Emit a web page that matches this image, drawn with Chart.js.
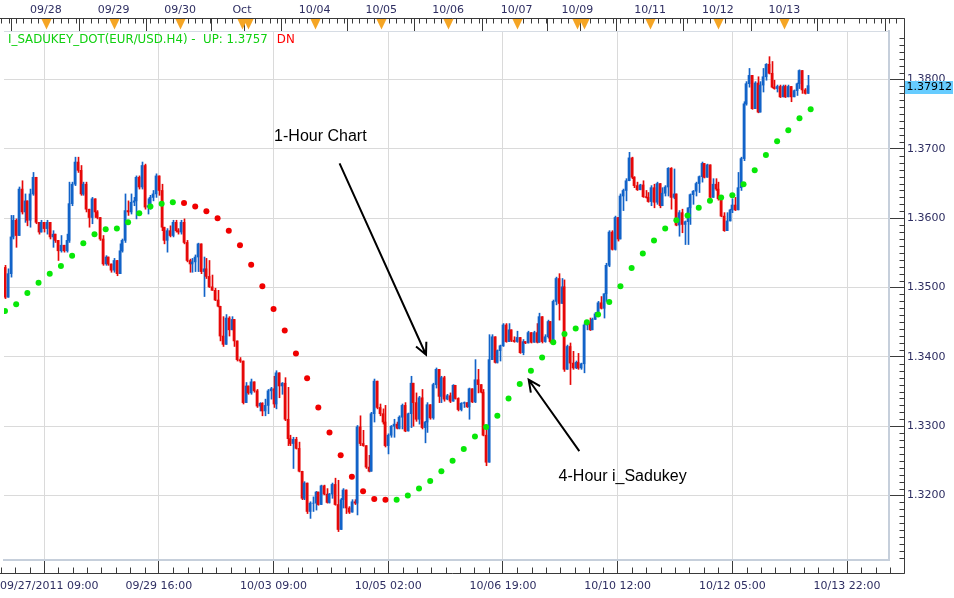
<!DOCTYPE html>
<html>
<head>
<meta charset="utf-8">
<script src="https://cdn.jsdelivr.net/npm/chart.js@4.4.0/dist/chart.umd.min.js"></script>
<style>
  html, body { margin: 0; padding: 0; background: #fff; }
  canvas { display: block; }
</style>
</head>
<body>
<canvas id="chart" width="954" height="598"></canvas>
<script>
// EUR/USD 1-hour bars (bar 0 = left edge)
const firstOpen = 1.3529;
const closes = [
  1.3486, 1.3520, 1.3573, 1.3597, 1.3575, 1.3642, 1.3609, 1.3625, 1.3597, 1.3635,
  1.3659, 1.3594, 1.3580, 1.3594, 1.3585, 1.3594, 1.3573, 1.3577, 1.3568, 1.3553,
  1.3561, 1.3553, 1.3568, 1.3621, 1.3649, 1.3681, 1.3669, 1.3635, 1.3649, 1.3613,
  1.3601, 1.3628, 1.3609, 1.3601, 1.3570, 1.3534, 1.3544, 1.3534, 1.3525, 1.3539,
  1.3520, 1.3553, 1.3568, 1.3611, 1.3609, 1.3623, 1.3625, 1.3659, 1.3645, 1.3676,
  1.3616, 1.3618, 1.3630, 1.3635, 1.3661, 1.3640, 1.3587, 1.3568, 1.3582, 1.3575,
  1.3594, 1.3582, 1.3580, 1.3594, 1.3565, 1.3539, 1.3534, 1.3537, 1.3544, 1.3563,
  1.3523, 1.3527, 1.3516, 1.3501, 1.3496, 1.3482, 1.3473, 1.3430, 1.3418, 1.3456,
  1.3439, 1.3454, 1.3423, 1.3396, 1.3394, 1.3334, 1.3358, 1.3348, 1.3364, 1.3351,
  1.3329, 1.3333, 1.3322, 1.3330, 1.3351, 1.3354, 1.3332, 1.3377, 1.3358, 1.3362,
  1.3310, 1.3282, 1.3275, 1.3281, 1.3268, 1.3235, 1.3196, 1.3218, 1.3177, 1.3189,
  1.3189, 1.3205, 1.3187, 1.3214, 1.3202, 1.3190, 1.3202, 1.3216, 1.3187, 1.3151,
  1.3194, 1.3208, 1.3182, 1.3176, 1.3191, 1.3189, 1.3299, 1.3275, 1.3272, 1.3241,
  1.3235, 1.3318, 1.3365, 1.3327, 1.3318, 1.3306, 1.3272, 1.3287, 1.3300, 1.3303,
  1.3297, 1.3313, 1.3330, 1.3293, 1.3318, 1.3362, 1.3334, 1.3310, 1.3341, 1.3298,
  1.3306, 1.3331, 1.3312, 1.3360, 1.3382, 1.3343, 1.3370, 1.3339, 1.3344, 1.3336,
  1.3359, 1.3340, 1.3324, 1.3333, 1.3334, 1.3328, 1.3354, 1.3335, 1.3367, 1.3360,
  1.3349, 1.3287, 1.3248, 1.3396, 1.3429, 1.3392, 1.3409, 1.3416, 1.3446, 1.3422,
  1.3439, 1.3424, 1.3422, 1.3428, 1.3406, 1.3422, 1.3420, 1.3435, 1.3421, 1.3435,
  1.3421, 1.3458, 1.3422, 1.3429, 1.3451, 1.3422, 1.3480, 1.3513, 1.3477, 1.3501,
  1.3382, 1.3415, 1.3391, 1.3384, 1.3392, 1.3384, 1.3390, 1.3446, 1.3449, 1.3439,
  1.3454, 1.3462, 1.3478, 1.3470, 1.3491, 1.3532, 1.3580, 1.3555, 1.3601, 1.3570,
  1.3632, 1.3640, 1.3654, 1.3687, 1.3659, 1.3647, 1.3641, 1.3648, 1.3631, 1.3630,
  1.3624, 1.3644, 1.3623, 1.3650, 1.3618, 1.3636, 1.3645, 1.3672, 1.3630, 1.3635,
  1.3590, 1.3608, 1.3591, 1.3595, 1.3615, 1.3634, 1.3639, 1.3650, 1.3660, 1.3679,
  1.3659, 1.3677, 1.3630, 1.3649, 1.3642, 1.3628, 1.3603, 1.3582, 1.3596, 1.3612,
  1.3619, 1.3612, 1.3644, 1.3686, 1.3765, 1.3794, 1.3806, 1.3758, 1.3795, 1.3753,
  1.3792, 1.3804, 1.3822, 1.3809, 1.3789, 1.3787, 1.3790, 1.3775, 1.3790, 1.3775,
  1.3790, 1.3775, 1.3784, 1.3794, 1.3813, 1.3785, 1.3780, 1.37912
];
const highs = [
  1.3532, 1.3527, 1.3604, 1.3604, 1.3599, 1.3645, 1.3654, 1.3635, 1.3625, 1.3642,
  1.3666, 1.3659, 1.3594, 1.3597, 1.3594, 1.3597, 1.3594, 1.3582, 1.3577, 1.3568,
  1.3575, 1.3561, 1.3577, 1.3652, 1.3652, 1.3688, 1.3688, 1.3676, 1.3652, 1.3652,
  1.3613, 1.3630, 1.3628, 1.3611, 1.3601, 1.3575, 1.3546, 1.3544, 1.3534, 1.3542,
  1.3539, 1.3563, 1.3570, 1.3635, 1.3625, 1.3635, 1.3630, 1.3661, 1.3661, 1.3681,
  1.3678, 1.3628, 1.3633, 1.3640, 1.3664, 1.3661, 1.3649, 1.3587, 1.3585, 1.3589,
  1.3597, 1.3597, 1.3585, 1.3597, 1.3599, 1.3568, 1.3541, 1.3542, 1.3547, 1.3564,
  1.3561, 1.3544, 1.3542, 1.3539, 1.3518, 1.3499, 1.3496, 1.3473, 1.3458, 1.3461,
  1.3458, 1.3458, 1.3451, 1.3423, 1.3399, 1.3394, 1.3363, 1.3358, 1.3368, 1.3364,
  1.3353, 1.3334, 1.3334, 1.3339, 1.3353, 1.3356, 1.3372, 1.3380, 1.3365, 1.3363,
  1.3370, 1.3356, 1.3287, 1.3284, 1.3284, 1.3277, 1.3234, 1.3220, 1.3208, 1.3191,
  1.3198, 1.3206, 1.3198, 1.3215, 1.3215, 1.3210, 1.3203, 1.3218, 1.3225, 1.3222,
  1.3196, 1.3210, 1.3208, 1.3184, 1.3194, 1.3194, 1.3301, 1.3315, 1.3294, 1.3272,
  1.3258, 1.3320, 1.3368, 1.3365, 1.3332, 1.3325, 1.3330, 1.3289, 1.3301, 1.3310,
  1.3306, 1.3315, 1.3332, 1.3334, 1.3319, 1.3372, 1.3362, 1.3348, 1.3343, 1.3353,
  1.3307, 1.3334, 1.3329, 1.3362, 1.3384, 1.3382, 1.3372, 1.3372, 1.3346, 1.3348,
  1.3360, 1.3359, 1.3341, 1.3334, 1.3335, 1.3334, 1.3355, 1.3354, 1.3396, 1.3382,
  1.3360, 1.3353, 1.3301, 1.3432, 1.3432, 1.3411, 1.3410, 1.3417, 1.3448, 1.3448,
  1.3448, 1.3439, 1.3429, 1.3437, 1.3427, 1.3425, 1.3422, 1.3437, 1.3435, 1.3437,
  1.3448, 1.3463, 1.3458, 1.3432, 1.3453, 1.3451, 1.3482, 1.3515, 1.3520, 1.3513,
  1.3511, 1.3417, 1.3420, 1.3408, 1.3394, 1.3405, 1.3391, 1.3448, 1.3451, 1.3456,
  1.3456, 1.3464, 1.3480, 1.3487, 1.3491, 1.3535, 1.3582, 1.3582, 1.3603, 1.3587,
  1.3635, 1.3642, 1.3657, 1.3695, 1.3688, 1.3660, 1.3652, 1.3649, 1.3654, 1.3640,
  1.3637, 1.3647, 1.3649, 1.3652, 1.3650, 1.3644, 1.3647, 1.3673, 1.3673, 1.3671,
  1.3635, 1.3611, 1.3613, 1.3596, 1.3615, 1.3635, 1.3640, 1.3652, 1.3661, 1.3681,
  1.3676, 1.3678, 1.3676, 1.3657, 1.3657, 1.3652, 1.3630, 1.3608, 1.3608, 1.3613,
  1.3628, 1.3630, 1.3666, 1.3688, 1.3768, 1.3797, 1.3816, 1.3806, 1.3797, 1.3804,
  1.3797, 1.3816, 1.3823, 1.3833, 1.3826, 1.3799, 1.3792, 1.3792, 1.3792, 1.3792,
  1.3792, 1.3789, 1.3785, 1.3795, 1.3814, 1.3813, 1.3787, 1.3806
];
const lows = [
  1.3484, 1.3486, 1.3515, 1.3570, 1.3558, 1.3575, 1.3606, 1.3594, 1.3589, 1.3587,
  1.3633, 1.3592, 1.3577, 1.3580, 1.3580, 1.3577, 1.3570, 1.3558, 1.3565, 1.3539,
  1.3551, 1.3551, 1.3551, 1.3565, 1.3618, 1.3647, 1.3666, 1.3633, 1.3633, 1.3609,
  1.3587, 1.3592, 1.3601, 1.3599, 1.3568, 1.3532, 1.3532, 1.3532, 1.3522, 1.3522,
  1.3517, 1.3520, 1.3551, 1.3565, 1.3604, 1.3606, 1.3618, 1.3599, 1.3642, 1.3642,
  1.3613, 1.3606, 1.3613, 1.3625, 1.3630, 1.3633, 1.3582, 1.3563, 1.3551, 1.3573,
  1.3573, 1.3580, 1.3577, 1.3577, 1.3563, 1.3537, 1.3522, 1.3522, 1.3523, 1.3523,
  1.3520, 1.3487, 1.3513, 1.3500, 1.3496, 1.3481, 1.3472, 1.3423, 1.3415, 1.3418,
  1.3430, 1.3439, 1.3415, 1.3394, 1.3392, 1.3332, 1.3334, 1.3346, 1.3346, 1.3349,
  1.3327, 1.3322, 1.3315, 1.3315, 1.3318, 1.3339, 1.3327, 1.3325, 1.3341, 1.3346,
  1.3308, 1.3272, 1.3272, 1.3239, 1.3267, 1.3234, 1.3194, 1.3194, 1.3174, 1.3167,
  1.3177, 1.3179, 1.3186, 1.3187, 1.3201, 1.3189, 1.3189, 1.3196, 1.3186, 1.3148,
  1.3151, 1.3182, 1.3174, 1.3174, 1.3176, 1.3187, 1.3172, 1.3272, 1.3271, 1.3239,
  1.3234, 1.3235, 1.3306, 1.3325, 1.3315, 1.3303, 1.3270, 1.3260, 1.3284, 1.3284,
  1.3296, 1.3296, 1.3296, 1.3292, 1.3293, 1.3298, 1.3300, 1.3307, 1.3303, 1.3296,
  1.3276, 1.3291, 1.3310, 1.3310, 1.3355, 1.3334, 1.3334, 1.3336, 1.3338, 1.3334,
  1.3336, 1.3339, 1.3322, 1.3322, 1.3327, 1.3327, 1.3310, 1.3334, 1.3334, 1.3348,
  1.3348, 1.3286, 1.3243, 1.3248, 1.3398, 1.3391, 1.3391, 1.3394, 1.3415, 1.3421,
  1.3422, 1.3422, 1.3421, 1.3421, 1.3405, 1.3403, 1.3419, 1.3420, 1.3420, 1.3421,
  1.3420, 1.3421, 1.3420, 1.3421, 1.3427, 1.3420, 1.3422, 1.3475, 1.3453, 1.3477,
  1.3379, 1.3382, 1.3360, 1.3382, 1.3383, 1.3382, 1.3382, 1.3377, 1.3439, 1.3438,
  1.3439, 1.3454, 1.3462, 1.3469, 1.3456, 1.3480, 1.3530, 1.3554, 1.3554, 1.3567,
  1.3570, 1.3611, 1.3625, 1.3654, 1.3657, 1.3644, 1.3640, 1.3641, 1.3630, 1.3629,
  1.3623, 1.3618, 1.3615, 1.3620, 1.3615, 1.3618, 1.3632, 1.3632, 1.3613, 1.3628,
  1.3589, 1.3574, 1.3579, 1.3562, 1.3562, 1.3591, 1.3620, 1.3632, 1.3637, 1.3652,
  1.3658, 1.3659, 1.3629, 1.3630, 1.3640, 1.3626, 1.3602, 1.3581, 1.3582, 1.3596,
  1.3608, 1.3611, 1.3630, 1.3640, 1.3683, 1.3763, 1.3789, 1.3757, 1.3758, 1.3752,
  1.3753, 1.3782, 1.3799, 1.3808, 1.3788, 1.3786, 1.3782, 1.3774, 1.3775, 1.3774,
  1.3775, 1.3768, 1.3775, 1.3777, 1.3787, 1.3780, 1.3779, 1.3780
];

// I_SADUKEY_DOT (4-hour), one dot every 4 bars
const upDots = [
  1.3466, 1.3476, 1.3492, 1.3507, 1.3520, 1.3531, 1.3546, 1.3564, 1.3577, 1.3584,
  1.3585, 1.3594, 1.3607, 1.3617, 1.3621, 1.3623, null, null, null, null,
  null, null, null, null, null, null, null, null, null, null,
  null, null, null, null, null, 1.3194, 1.3200, 1.3210, 1.3221, 1.3235,
  1.3250, 1.3267, 1.3285, 1.3299, 1.3315, 1.3340, 1.3361, 1.3380, 1.3399, 1.3421,
  1.3433, 1.3441, 1.3450, 1.3461, 1.3479, 1.3502, 1.3528, 1.3549, 1.3568, 1.3585,
  1.3597, 1.3604, 1.3615, 1.3625, 1.3630, 1.3633, 1.3649, 1.3669, 1.3691, 1.3711,
  1.3727, 1.3744, 1.3757
];
const dnDots = [
  null, null, null, null, null, null, null, null, null, null,
  null, null, null, null, null, null, 1.3622, 1.3617, 1.3610, 1.3600,
  1.3582, 1.3561, 1.3533, 1.3502, 1.3469, 1.3438, 1.3405, 1.3369, 1.3327, 1.3291,
  1.3258, 1.3227, 1.3206, 1.3195, 1.3194, null, null, null, null, null,
  null, null, null, null, null, null, null, null, null, null,
  null, null, null, null, null, null, null, null, null, null,
  null, null, null, null, null, null, null, null, null, null,
  null, null, null
];
const dotEvery = 4;

// axes
const bottomTickBars = [14, 55, 96, 137, 178, 219, 260, 301];
const bottomTickLabels = ['09/27/2011 09:00', '09/29 16:00', '10/03 09:00', '10/05 02:00',
  '10/06 19:00', '10/10 12:00', '10/12 05:00', '10/13 22:00'];
const dayMarkBars = [14.6, 38.8, 62.6, 84.7, 86.8, 110.7, 134.5, 158.4, 182.9, 204.6, 206.8, 230.6, 254.8, 278.6, 302.6];
const dayMarkLabels = ['09/28', '09/29', '09/30', 'Oct', '', '10/04', '10/05', '10/06', '10/07', '10/09', '', '10/11', '10/12', '10/13', ''];
const priceTicks = [1.32, 1.33, 1.34, 1.35, 1.36, 1.37, 1.38];

const legendText = 'I_SADUKEY_DOT(EUR/USD.H4) -  UP: ' + upDots[upDots.length - 1].toFixed(4);
const notes = [
  { text: '1-Hour Chart', x: 96.2, y: 1.3718, from: [119.6, 1.3679], to: [150.5, 1.3403] },
  { text: '4-Hour i_Sadukey', x: 197.9, y: 1.3228, from: [205.3, 1.3264], to: [187.2, 1.3367] }
];

const BLUE = '#1263c8';
const RED = '#e60808';
const GREEN = '#08e808';
const DOT_RED = '#f00000';
const GRID = '#dadada';
const FRAME = '#c6cfdb';
const AXIS = '#3a3a3a';
const TEXT = '#2e2e62';
const FONT = 'DejaVu Sans';

const opens = closes.map((c, i) => i === 0 ? firstOpen : closes[i - 1]);
const bodies = closes.map((c, i) => ({ x: i, y: [opens[i], c] }));
const wicks = closes.map((c, i) => ({ x: i, y: [Math.min(lows[i], opens[i], c), Math.max(highs[i], opens[i], c)] }));
const barColors = closes.map((c, i) => c >= opens[i] ? BLUE : RED);

const X_MIN = -0.35, X_MAX = 316;
const Y_MIN = 1.3107, Y_MAX = 1.3870;

Chart.defaults.font.family = FONT;
Chart.defaults.font.size = 11;

// keep the thin candle bars on whole pixels so they stay crisp
const snapBars = {
  id: 'snapBars',
  beforeDatasetsDraw(chart) {
    chart.data.datasets.forEach((ds, di) => {
      if (ds.type === 'line') return;
      chart.getDatasetMeta(di).data.forEach(el => {
        if (el.$rawX === undefined) el.$rawX = el.x;
        el.x = Math.round(el.$rawX) + (ds.barThickness === 1 ? 0.5 : 0);
      });
    });
  }
};

const decorations = {
  id: 'decorations',
  afterDraw(chart) {
    const { ctx, chartArea: area } = chart;
    const x = chart.scales.x, y = chart.scales.y;
    const topY = Math.round(area.top - 13) + 0.5;
    const bottomY = Math.round(area.bottom + 13) + 0.5;
    const rightX = Math.round(area.right + 15) + 0.5;
    ctx.save();

    // outer axis lines
    ctx.strokeStyle = AXIS;
    ctx.lineWidth = 1;
    ctx.beginPath();
    ctx.moveTo(0, topY); ctx.lineTo(rightX, topY);
    ctx.moveTo(rightX, topY); ctx.lineTo(rightX, bottomY);
    ctx.moveTo(0, bottomY); ctx.lineTo(rightX, bottomY);

    // minor ticks, bottom
    const step = (bottomTickBars[1] - bottomTickBars[0]) / 8;
    for (let k = -8; k < 80; k++) {
      if (k % 8 === 0) continue;
      const px = Math.round(x.getPixelForValue(bottomTickBars[0] + k * step)) + 0.5;
      if (px < 0 || px > rightX) continue;
      ctx.moveTo(px, bottomY - 6); ctx.lineTo(px, bottomY);
    }
    // minor ticks, right
    for (let m = 1311; m <= 1386; m++) {
      if (m % 10 === 0) continue;
      const py = Math.round(y.getPixelForValue(m / 1000)) + 0.5;
      ctx.moveTo(rightX - 5, py); ctx.lineTo(rightX, py);
    }
    // minor ticks, top
    const dayStep = 24 / 9;
    for (let k = -9; k < 130; k++) {
      if (k % 9 === 0) continue;
      const px = Math.round(x.getPixelForValue(dayMarkBars[0] + k * dayStep)) + 0.5;
      if (px < 0 || px > rightX) continue;
      ctx.moveTo(px, topY); ctx.lineTo(px, topY + 5);
    }
    ctx.stroke();

    // day markers
    ctx.fillStyle = '#f5a524';
    dayMarkBars.forEach(v => {
      if (v > closes.length) return;
      const px = Math.round(x.getPixelForValue(v)) + 0.5;
      ctx.beginPath();
      ctx.moveTo(px - 5, topY + 0.5);
      ctx.lineTo(px + 5, topY + 0.5);
      ctx.lineTo(px, topY + 11);
      ctx.closePath();
      ctx.fill();
    });

    // first bottom label sits flush left
    ctx.font = '11px ' + FONT;
    ctx.fillStyle = TEXT;
    ctx.textBaseline = 'middle';
    ctx.textAlign = 'left';
    ctx.fillText(bottomTickLabels[0], 0, area.bottom + 26.5);

    // indicator legend
    ctx.font = '11.8px ' + FONT;
    ctx.fillStyle = '#10d010';
    ctx.fillText(legendText, 8, area.top + 9);
    const w = ctx.measureText(legendText).width;
    ctx.fillStyle = '#ff0000';
    ctx.fillText('DN', 8 + w + 9, area.top + 9);

    // last price tag
    ctx.font = '11px ' + FONT;
    const last = closes[closes.length - 1];
    const py = y.getPixelForValue(last) + 1.5;
    ctx.fillStyle = '#66ccff';
    ctx.fillRect(rightX + 0.5, Math.round(py - 6.5), 48, 13);
    ctx.fillStyle = '#000';
    ctx.fillText(last.toFixed(5), rightX + 2, py);

    // notes with arrows
    ctx.font = '16px "Liberation Sans", Arial, sans-serif';
    ctx.strokeStyle = '#000';
    ctx.lineWidth = 2;
    notes.forEach(n => {
      ctx.fillStyle = '#000';
      ctx.fillText(n.text, x.getPixelForValue(n.x), y.getPixelForValue(n.y));
      const x0 = x.getPixelForValue(n.from[0]), y0 = y.getPixelForValue(n.from[1]);
      const x1 = x.getPixelForValue(n.to[0]), y1 = y.getPixelForValue(n.to[1]);
      const a = Math.atan2(y1 - y0, x1 - x0);
      ctx.beginPath();
      ctx.moveTo(x0, y0); ctx.lineTo(x1, y1);
      ctx.moveTo(x1 - 13 * Math.cos(a - 0.45), y1 - 13 * Math.sin(a - 0.45));
      ctx.lineTo(x1, y1);
      ctx.lineTo(x1 - 13 * Math.cos(a + 0.45), y1 - 13 * Math.sin(a + 0.45));
      ctx.stroke();
    });
    ctx.restore();
  }
};

new Chart(document.getElementById('chart'), {
  type: 'bar',
  data: {
    datasets: [
      {
        type: 'line', label: 'up', showLine: false, order: 0,
        data: upDots.map((v, k) => ({ x: k * dotEvery, y: v })),
        pointRadius: 3, pointBorderWidth: 0, pointBackgroundColor: GREEN
      },
      {
        type: 'line', label: 'dn', showLine: false, order: 0,
        data: dnDots.map((v, k) => ({ x: k * dotEvery, y: v })),
        pointRadius: 3, pointBorderWidth: 0, pointBackgroundColor: DOT_RED
      },
      {
        label: 'body', data: bodies, order: 1, grouped: false,
        barThickness: 2, backgroundColor: barColors, borderWidth: 0
      },
      {
        label: 'wick', data: wicks, order: 2, grouped: false,
        barThickness: 1, backgroundColor: barColors, borderWidth: 0
      }
    ]
  },
  options: {
    responsive: false,
    devicePixelRatio: 1,
    animation: false,
    layout: { padding: 0 },
    plugins: { legend: { display: false }, tooltip: { enabled: false } },
    scales: {
      x: {
        type: 'linear', position: 'bottom', min: X_MIN, max: X_MAX, offset: false,
        afterBuildTicks: s => { s.ticks = bottomTickBars.map(v => ({ value: v })); },
        afterFit: s => { s.height = 38; s.paddingLeft = 0; s.paddingRight = 0; },
        grid: { color: GRID, tickColor: AXIS, tickLength: 13, offset: false },
        border: { color: FRAME, width: 2 },
        ticks: {
          autoSkip: false, maxRotation: 0, color: TEXT, padding: 7,
          callback: (v, i) => i === 0 ? '' : bottomTickLabels[i]
        }
      },
      xTop: {
        type: 'linear', position: 'top', min: X_MIN, max: X_MAX, offset: false,
        afterBuildTicks: s => { s.ticks = dayMarkBars.map(v => ({ value: v })); },
        afterFit: s => { s.height = 31; s.paddingLeft = 0; s.paddingRight = 0; },
        grid: { drawOnChartArea: false, tickColor: AXIS, tickLength: 13 },
        border: { color: '#d6dce4', width: 1 },
        ticks: {
          autoSkip: false, maxRotation: 0, color: TEXT, padding: 1,
          callback: (v, i) => dayMarkLabels[i]
        }
      },
      y: {
        position: 'right', min: Y_MIN, max: Y_MAX,
        afterBuildTicks: s => { s.ticks = priceTicks.map(v => ({ value: v })); },
        afterFit: s => { s.width = 65; },
        grid: { color: GRID, tickColor: AXIS, tickLength: 15 },
        border: { color: FRAME, width: 2 },
        ticks: { color: TEXT, padding: 3, callback: v => v.toFixed(4) }
      }
    }
  },
  plugins: [snapBars, decorations]
});
</script>
</body>
</html>
